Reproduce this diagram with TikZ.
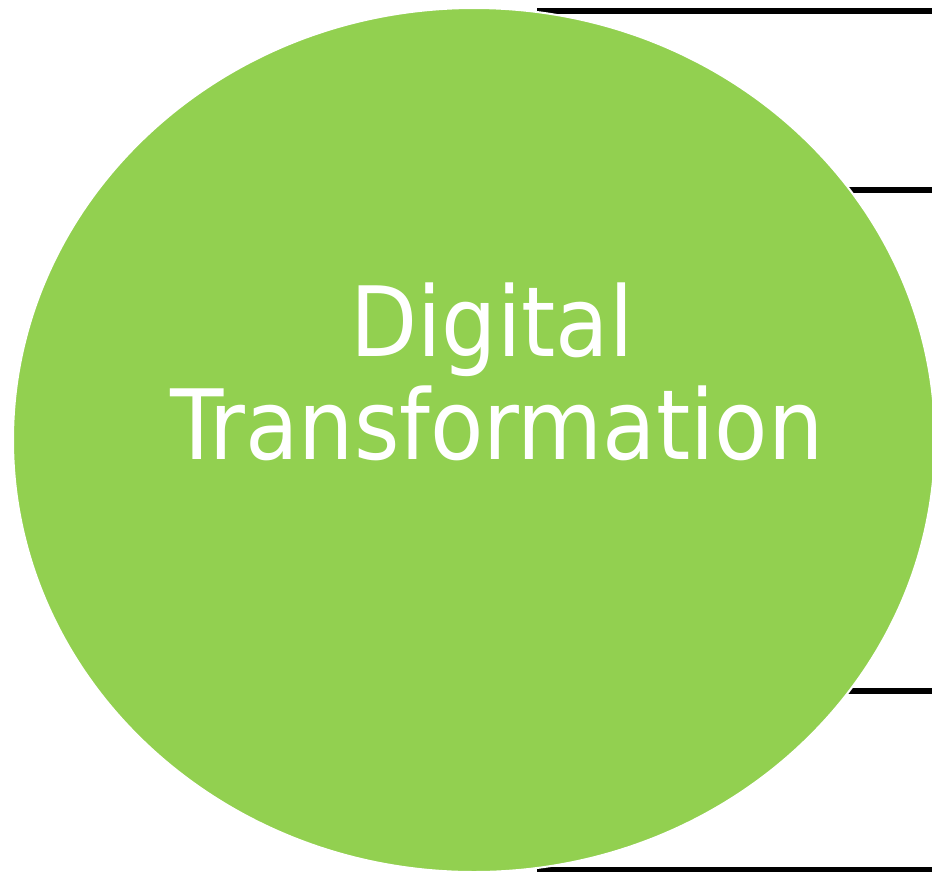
\documentclass[tikz,border=0pt]{standalone}
\usepackage{fontspec}
\newfontfamily\tfont{DejaVu Sans Condensed}
\usetikzlibrary{shapes.geometric}
\definecolor{dtgreen}{HTML}{92D050}
\tikzset{
  barline/.style={line width=5.5pt, black},
  bubble/.style={ellipse, fill=dtgreen, draw=white, line width=2pt, inner sep=0pt,
                 minimum width=922pt, minimum height=864pt},
  label/.style={font=\tfont\fontsize{97}{103}\selectfont, text=white, anchor=base, inner sep=0pt}
}
\begin{document}
\begin{tikzpicture}[x=1pt,y=-1pt]
\useasboundingbox (0,0) rectangle (932,871);
\coordinate (l1a) at (537,11);  \coordinate (l1b) at (932,11);
\coordinate (l2a) at (700,190); \coordinate (l2b) at (932,190);
\coordinate (l3a) at (700,691); \coordinate (l3b) at (932,691);
\coordinate (l4a) at (537,869.5); \coordinate (l4b) at (932,869.5);
\draw[barline] (l1a) -- (l1b);
\draw[barline] (l2a) -- (l2b);
\draw[barline] (l3a) -- (l3b);
\draw[barline] (l4a) -- (l4b);
\node[bubble] (dt) at (474,440) {};
\node[label] (t1) at (492,356) {Digital};
\node[label] (t2) at (497,459) {Transformation};
\end{tikzpicture}
\end{document}
